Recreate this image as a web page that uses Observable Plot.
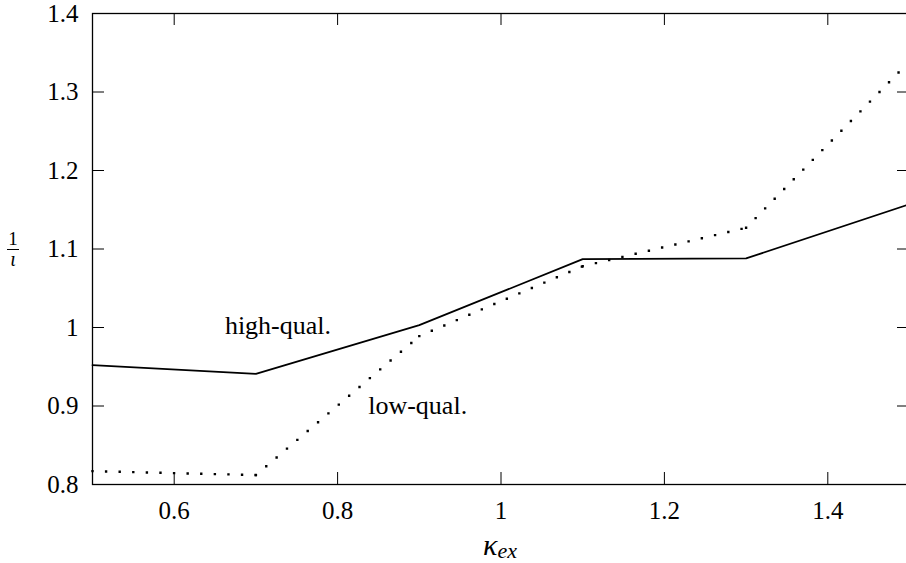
<!DOCTYPE html>
<html><head><meta charset="utf-8">
<script src="https://cdn.jsdelivr.net/npm/d3@7"></script>
<script src="https://cdn.jsdelivr.net/npm/@observablehq/plot@0.6"></script>
<style>
html,body{margin:0;padding:0;background:#fff;overflow:hidden}
#chart svg, #chart svg text, #chart svg tspan { font-family: "Liberation Serif", "Times New Roman", serif !important; }
</style>
</head><body><div id="chart"></div>
<script>
const kappa = [0.5, 0.7, 0.9, 1.1, 1.3, 1.5];
const highQual = [0.952, 0.941, 1.003, 1.087, 1.088, 1.157];
const lowQual = [0.817, 0.812, 0.989, 1.078, 1.127, 1.339];
const xTicks = [0.6, 0.8, 1, 1.2, 1.4];
const yTicks = [0.8, 0.9, 1, 1.1, 1.2, 1.3, 1.4];
const seriesLabels = ["high-qual.", "low-qual."];
const labelX = [0.727, 0.898];
const labelY = [1.002, 0.900];

const highPts = kappa.map((k, i) => ({x: k, y: highQual[i]}));
const lowPts = kappa.map((k, i) => ({x: k, y: lowQual[i]}));
const lowSegs = d3.pairs(lowPts);
const labels = seriesLabels.map((t, i) => ({text: t, x: labelX[i], y: labelY[i]}));

const W = 906, H = 563, mL = 92, mR = -3, mT = 13, mB = 79;
const innerW = W - mL - mR, innerH = H - mT - mB;
const tickLen = 12;
const fmt = d => `${d}`;
const FONT = "Liberation Serif";

const plot = Plot.plot({
  width: W, height: H,
  marginLeft: mL, marginRight: mR, marginTop: mT, marginBottom: mB,
  style: {"font-family": FONT, "font-size": "25px", "color": "black", "background": "white", "overflow": "visible"},
  x: {domain: [0.5, 1.5]},
  y: {domain: [0.8, 1.4]},
  marks: [
    Plot.frame({stroke: "black", strokeWidth: 1.3}),
    Plot.axisX(xTicks, {tickSize: 0, tickPadding: 17, tickFormat: fmt, fontSize: 25, fontFamily: FONT, label: null}),
    Plot.axisY(yTicks, {tickSize: 0, tickPadding: 14, tickFormat: fmt, fontSize: 25, fontFamily: FONT, label: null}),
    Plot.tickX(xTicks, {x: d => d, insetTop: innerH - tickLen, stroke: "black", strokeWidth: 1}),
    Plot.tickX(xTicks, {x: d => d, insetBottom: innerH - tickLen, stroke: "black", strokeWidth: 1}),
    Plot.tickY(yTicks, {y: d => d, insetRight: innerW - tickLen, stroke: "black", strokeWidth: 1}),
    Plot.tickY(yTicks, {y: d => d, insetLeft: innerW - tickLen, stroke: "black", strokeWidth: 1}),
    Plot.line(highPts, {x: "x", y: "y", stroke: "black", strokeWidth: 1.8}),
    Plot.link(lowSegs, {x1: d => d[0].x, y1: d => d[0].y, x2: d => d[1].x, y2: d => d[1].y,
      stroke: "black", strokeWidth: 2.4, strokeDasharray: "0 13.6", strokeLinecap: "square"}),
    Plot.text(labels, {x: "x", y: "y", text: "text", fontSize: 26, fontFamily: FONT, fill: "black"})
  ]
});
document.getElementById("chart").append(plot);

const svg = d3.select(plot);
const g = svg.append("g").attr("fill", "black").attr("font-family", FONT);
g.append("text").attr("x", 13).attr("y", 245).attr("text-anchor", "middle").attr("font-size", 19).text("1");
g.append("line").attr("x1", 7).attr("x2", 19).attr("y1", 249.5).attr("y2", 249.5).attr("stroke", "black").attr("stroke-width", 1);
g.append("text").attr("x", 13).attr("y", 266).attr("text-anchor", "middle").attr("font-size", 20).attr("font-style", "italic").text("ι");
const xl = g.append("text").attr("x", 500).attr("y", 555).attr("text-anchor", "middle").attr("font-style", "italic");
xl.append("tspan").attr("font-size", 30).text("κ");
xl.append("tspan").attr("font-size", 22).attr("dy", 3).text("ex");
</script>
</body></html>
